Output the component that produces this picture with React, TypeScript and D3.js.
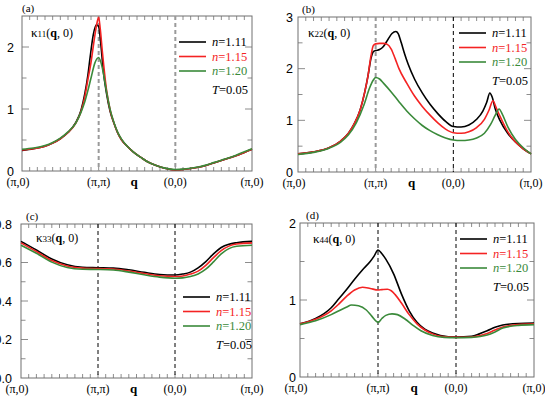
import React from "react";
import * as d3 from "d3";

type Pt = [number, number];

const qLabels = ["(π,0)", "(π,π)", "(0,0)", "(π,0)"];
const densities = ["1.11", "1.15", "1.20"];
const colors = ["#000000", "#f42323", "#3a8a3a"];
const tempLabel = "0.05";

// (a) kappa11
const k11n111: Pt[] = [[0,0.33],[0.15,0.36],[0.3,0.4],[0.4,0.45],[0.5,0.52],[0.6,0.62],[0.7,0.78],[0.77,0.98],[0.82,1.25],[0.86,1.55],[0.89,1.85],[0.93,2.2],[0.97,2.36],[1.0,2.33],[1.03,2.02],[1.06,1.62],[1.1,1.27],[1.15,0.96],[1.2,0.77],[1.25,0.61],[1.3,0.5],[1.38,0.39],[1.45,0.31],[1.55,0.22],[1.65,0.14],[1.75,0.09],[1.85,0.05],[2.0,0.02],[2.1,0.025],[2.2,0.04],[2.3,0.06],[2.4,0.09],[2.5,0.13],[2.6,0.17],[2.7,0.21],[2.8,0.25],[2.9,0.3],[3.0,0.35]];
const k11n115: Pt[] = [[0,0.34],[0.15,0.36],[0.3,0.4],[0.4,0.45],[0.5,0.52],[0.6,0.62],[0.7,0.77],[0.77,0.96],[0.82,1.2],[0.86,1.48],[0.9,1.75],[0.94,2.1],[0.98,2.4],[1.0,2.48],[1.02,2.3],[1.05,1.9],[1.1,1.33],[1.15,0.98],[1.2,0.77],[1.25,0.61],[1.3,0.5],[1.38,0.39],[1.45,0.31],[1.55,0.22],[1.65,0.14],[1.75,0.09],[1.85,0.05],[2.0,0.02],[2.1,0.025],[2.2,0.04],[2.3,0.06],[2.4,0.09],[2.5,0.13],[2.6,0.17],[2.7,0.21],[2.8,0.25],[2.9,0.3],[3.0,0.35]];
const k11n120: Pt[] = [[0,0.35],[0.15,0.37],[0.3,0.41],[0.4,0.46],[0.5,0.53],[0.6,0.63],[0.7,0.77],[0.77,0.95],[0.82,1.12],[0.86,1.3],[0.9,1.5],[0.95,1.74],[1.0,1.83],[1.05,1.65],[1.1,1.3],[1.15,0.99],[1.2,0.78],[1.25,0.62],[1.3,0.51],[1.38,0.39],[1.45,0.31],[1.55,0.22],[1.65,0.14],[1.75,0.09],[1.85,0.05],[2.0,0.025],[2.1,0.03],[2.2,0.045],[2.3,0.065],[2.4,0.095],[2.5,0.135],[2.6,0.175],[2.7,0.215],[2.8,0.26],[2.9,0.31],[3.0,0.36]];

// (b) kappa22
const k22n111: Pt[] = [[0,0.35],[0.2,0.39],[0.4,0.47],[0.55,0.6],[0.65,0.75],[0.72,0.92],[0.8,1.2],[0.86,1.55],[0.9,1.85],[0.94,2.2],[0.97,2.33],[1.0,2.35],[1.05,2.37],[1.1,2.43],[1.16,2.57],[1.21,2.68],[1.26,2.72],[1.29,2.68],[1.33,2.5],[1.37,2.3],[1.42,2.08],[1.5,1.8],[1.6,1.53],[1.7,1.31],[1.8,1.13],[1.9,0.98],[2.0,0.88],[2.1,0.87],[2.2,0.91],[2.3,1.02],[2.38,1.18],[2.43,1.35],[2.47,1.53],[2.5,1.45],[2.54,1.22],[2.6,1.0],[2.7,0.75],[2.8,0.58],[2.9,0.45],[3.0,0.35]];
const k22n115: Pt[] = [[0,0.35],[0.2,0.39],[0.4,0.47],[0.55,0.6],[0.65,0.75],[0.72,0.92],[0.8,1.2],[0.86,1.55],[0.9,1.85],[0.94,2.25],[0.97,2.45],[1.0,2.48],[1.05,2.49],[1.1,2.49],[1.15,2.47],[1.2,2.38],[1.25,2.2],[1.3,2.0],[1.4,1.72],[1.5,1.47],[1.6,1.27],[1.7,1.1],[1.8,0.95],[1.9,0.83],[2.0,0.76],[2.1,0.75],[2.2,0.78],[2.3,0.86],[2.4,1.02],[2.46,1.2],[2.51,1.38],[2.55,1.25],[2.6,1.08],[2.7,0.78],[2.8,0.58],[2.9,0.45],[3.0,0.35]];
const k22n120: Pt[] = [[0,0.34],[0.2,0.38],[0.4,0.46],[0.55,0.58],[0.65,0.72],[0.75,0.95],[0.85,1.3],[0.92,1.62],[0.97,1.78],[1.0,1.83],[1.05,1.8],[1.1,1.72],[1.2,1.55],[1.3,1.36],[1.4,1.18],[1.5,1.03],[1.6,0.9],[1.7,0.8],[1.8,0.72],[1.9,0.66],[2.0,0.62],[2.1,0.61],[2.2,0.62],[2.3,0.66],[2.4,0.75],[2.48,0.92],[2.54,1.1],[2.59,1.22],[2.63,1.12],[2.7,0.88],[2.8,0.63],[2.9,0.47],[3.0,0.35]];

// (c) kappa33
const k33n111: Pt[] = [[0,0.71],[0.2,0.665],[0.4,0.618],[0.6,0.588],[0.8,0.575],[1.0,0.573],[1.2,0.571],[1.4,0.562],[1.6,0.549],[1.8,0.538],[2.0,0.535],[2.1,0.54],[2.2,0.55],[2.3,0.572],[2.4,0.605],[2.5,0.645],[2.6,0.678],[2.7,0.695],[2.8,0.703],[3.0,0.71]];
const k33n115: Pt[] = [[0,0.702],[0.2,0.657],[0.4,0.61],[0.6,0.582],[0.8,0.571],[1.0,0.568],[1.2,0.566],[1.4,0.556],[1.6,0.543],[1.8,0.531],[2.0,0.527],[2.1,0.53],[2.2,0.54],[2.3,0.555],[2.4,0.585],[2.5,0.625],[2.6,0.662],[2.7,0.685],[2.8,0.696],[3.0,0.702]];
const k33n120: Pt[] = [[0,0.69],[0.2,0.648],[0.4,0.602],[0.6,0.574],[0.8,0.565],[1.0,0.564],[1.2,0.561],[1.4,0.55],[1.6,0.536],[1.8,0.524],[2.0,0.518],[2.1,0.52],[2.2,0.527],[2.3,0.54],[2.4,0.565],[2.5,0.603],[2.6,0.645],[2.7,0.672],[2.8,0.684],[3.0,0.69]];

// (d) kappa44
const k44n111: Pt[] = [[0,0.69],[0.2,0.76],[0.4,0.9],[0.5,1.02],[0.6,1.14],[0.7,1.27],[0.8,1.39],[0.9,1.5],[0.95,1.57],[1.0,1.65],[1.05,1.6],[1.1,1.53],[1.2,1.34],[1.3,1.08],[1.4,0.86],[1.5,0.71],[1.6,0.62],[1.7,0.57],[1.8,0.54],[2.0,0.52],[2.2,0.53],[2.3,0.56],[2.4,0.6],[2.5,0.645],[2.6,0.675],[2.8,0.695],[3.0,0.7]];
const k44n115: Pt[] = [[0,0.69],[0.2,0.75],[0.4,0.86],[0.5,0.95],[0.6,1.05],[0.7,1.13],[0.8,1.165],[0.9,1.15],[1.0,1.13],[1.05,1.135],[1.12,1.14],[1.17,1.12],[1.22,1.07],[1.3,0.96],[1.4,0.81],[1.5,0.69],[1.6,0.61],[1.7,0.56],[1.8,0.53],[2.0,0.515],[2.2,0.52],[2.4,0.565],[2.5,0.61],[2.6,0.65],[2.8,0.68],[3.0,0.69]];
const k44n120: Pt[] = [[0,0.68],[0.2,0.73],[0.4,0.81],[0.5,0.86],[0.6,0.91],[0.66,0.935],[0.75,0.925],[0.85,0.87],[0.92,0.79],[1.0,0.71],[1.05,0.76],[1.1,0.8],[1.18,0.82],[1.25,0.81],[1.35,0.75],[1.45,0.67],[1.55,0.6],[1.7,0.54],[1.85,0.515],[2.0,0.51],[2.2,0.515],[2.4,0.545],[2.5,0.585],[2.6,0.635],[2.8,0.67],[3.0,0.68]];

const FRAME = "#707070";

function Panel({ cfg }: any) {
  const x = d3.scaleLinear().domain([0, 3]).range([cfg.left, cfg.right]);
  const y = d3.scaleLinear().domain([0, cfg.ymax]).range([cfg.bottom, cfg.top]);
  const line = d3
    .line<Pt>()
    .x((d) => x(d[0]))
    .y((d) => y(d[1]))
    .curve(d3.curveMonotoneX);

  const xMinor = d3.range(0, 30).map((i) => i / 10).filter((v) => v > 0);
  const yMinor = d3.range(1, Math.round(cfg.ymax / cfg.minor)).map((i) => i * cfg.minor);
  const isMajor = (v: number) => cfg.yTicks.some((t: number) => Math.abs(t - v) < 1e-6);
  const fmt = cfg.ymax < 1 ? d3.format(".1f") : d3.format("d");

  return (
    <g>
      <rect
        x={cfg.left}
        y={cfg.top}
        width={cfg.right - cfg.left}
        height={cfg.bottom - cfg.top}
        fill="none"
        stroke={FRAME}
        strokeWidth={1}
      />
      {/* x ticks top and bottom */}
      {xMinor.map((v, i) => (
        <g key={"xt" + i} stroke={FRAME} strokeWidth={0.8}>
          <line x1={x(v)} x2={x(v)} y1={cfg.bottom} y2={cfg.bottom - 4} />
          <line x1={x(v)} x2={x(v)} y1={cfg.top} y2={cfg.top + 4} />
        </g>
      ))}
      {/* y ticks left and right */}
      {yMinor.map((v, i) => {
        const len = isMajor(v) ? 7 : 4.5;
        return (
          <g key={"yt" + i} stroke={FRAME} strokeWidth={0.8}>
            <line x1={cfg.left} x2={cfg.left + len} y1={y(v)} y2={y(v)} />
            <line x1={cfg.right} x2={cfg.right - len} y1={y(v)} y2={y(v)} />
          </g>
        );
      })}
      {cfg.yTicks.map((v: number) => (
        <text
          key={"yl" + v}
          x={cfg.left - cfg.gap}
          y={y(v)}
          dy="0.36em"
          textAnchor="end"
          fontFamily="'Liberation Sans', Arial, sans-serif"
          fontSize={12.5}
        >
          {fmt(v)}
        </text>
      ))}
      {qLabels.map((t, i) => (
        <text
          key={"xl" + i}
          x={x(i) + (i === 0 ? -4 : 0)}
          y={cfg.bottom + 15}
          textAnchor="middle"
          fontFamily="'Liberation Serif', 'Times New Roman', serif"
          fontSize={12}
        >
          {t}
        </text>
      ))}
      <text
        x={x(1.5) - 3}
        y={cfg.bottom + 15}
        textAnchor="middle"
        fontFamily="'Liberation Serif', serif"
        fontWeight="bold"
        fontSize={13}
      >
        q
      </text>
      {/* dashed guides at (pi,pi) and (0,0) */}
      {cfg.guides.map((g: any, i: number) => (
        <line
          key={"g" + i}
          x1={x(i + 1)}
          x2={x(i + 1)}
          y1={cfg.top}
          y2={cfg.bottom}
          stroke={g.color}
          strokeWidth={g.width}
          strokeDasharray={g.dash}
        />
      ))}
      {cfg.series.map((s: Pt[], i: number) => (
        <path key={"s" + i} d={line(s) || ""} fill="none" stroke={colors[i]} strokeWidth={1.6} />
      ))}
      {/* legend */}
      {densities.map((n, i) => (
        <g key={"lg" + i}>
          <line
            x1={cfg.legX}
            x2={cfg.legX + 27}
            y1={cfg.legY + i * 14.5}
            y2={cfg.legY + i * 14.5}
            stroke={colors[i]}
            strokeWidth={1.6}
          />
          <text
            x={cfg.legX + 33}
            y={cfg.legY + i * 14.5}
            dy="0.35em"
            fill={colors[i]}
            fontFamily="'Liberation Serif', 'Times New Roman', serif"
            fontSize={12.5}
          >
            <tspan fontStyle="italic">n</tspan>={n}
          </text>
        </g>
      ))}
      <text
        x={cfg.legX + 33}
        y={cfg.legY + 3 * 14.5 + 4}
        dy="0.35em"
        fontFamily="'Liberation Serif', 'Times New Roman', serif"
        fontSize={12.5}
      >
        <tspan fontStyle="italic">T</tspan>={tempLabel}
      </text>
      {/* kappa label */}
      <text
        x={cfg.kx}
        y={cfg.ky}
        fontFamily="'Liberation Serif', 'Times New Roman', serif"
        fontSize={12}
      >
        <tspan fontSize={13}>κ</tspan>
        <tspan fontSize={9}>{cfg.idx}</tspan>
        <tspan>(</tspan>
        <tspan fontWeight="bold">q</tspan>
        <tspan>, 0)</tspan>
      </text>
      <text
        x={cfg.letterX}
        y={cfg.top - 4}
        fontFamily="'Liberation Serif', 'Times New Roman', serif"
        fontSize={11}
      >
        {cfg.letter}
      </text>
    </g>
  );
}

const grey = { color: "#9a9a9a", width: 2, dash: "4,3" };
const black = { color: "#000", width: 1, dash: "4,3" };

const panels = [
  {
    left: 22, right: 252, top: 16, bottom: 171, ymax: 2.5, minor: 0.5, yTicks: [0, 1, 2], gap: 8,
    series: [k11n111, k11n115, k11n120], guides: [grey, grey],
    legX: 179, legY: 42, kx: 31, ky: 37, idx: "11", letter: "(a)", letterX: 22,
  },
  {
    left: 298, right: 531, top: 17, bottom: 172, ymax: 3, minor: 0.5, yTicks: [0, 1, 2, 3], gap: 5,
    series: [k22n111, k22n115, k22n120], guides: [grey, black],
    legX: 459, legY: 33, kx: 308, ky: 37, idx: "22", letter: "(b)", letterX: 302,
  },
  {
    left: 21, right: 252, top: 224, bottom: 378, ymax: 0.8, minor: 0.1, yTicks: [0, 0.2, 0.4, 0.6, 0.8], gap: 9,
    series: [k33n111, k33n115, k33n120], guides: [black, black],
    legX: 183, legY: 297, kx: 36, ky: 242, idx: "33", letter: "(c)", letterX: 26,
  },
  {
    left: 300, right: 534, top: 223, bottom: 377, ymax: 2, minor: 0.5, yTicks: [0, 1, 2], gap: 4,
    series: [k44n111, k44n115, k44n120], guides: [black, black],
    legX: 460, legY: 239, kx: 313, ky: 243, idx: "44", letter: "(d)", letterX: 306,
  },
];

export default function App() {
  return (
    <svg
      width={545}
      height={399}
      style={{ position: "absolute", left: 0, top: 0, background: "#fff" }}
    >
      {panels.map((p, i) => (
        <Panel key={i} cfg={p} />
      ))}
    </svg>
  );
}
